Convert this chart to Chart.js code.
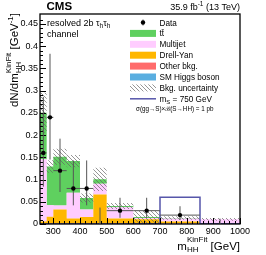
<!DOCTYPE html>
<html>
<head>
<meta charset="utf-8">
<script src="https://cdn.jsdelivr.net/npm/chart.js@4.4.0/dist/chart.umd.min.js"></script>
<style>
  html, body { margin: 0; padding: 0; background: #fff; }
</style>
</head>
<body>
<canvas id="chartMhh" width="266" height="255"></canvas>
<script>
// bin edges (GeV) and contents (events / GeV)
const binEdges = [250, 275, 300, 350, 400, 450, 500, 600, 700, 850, 1000];

const ttbar    = [0.105, 0.087, 0.110, 0.071, 0.026, 0.010, 0.003, 0.002, 0.001, 0.000];
const multijet = [0.140, 0.026, 0.009, 0.058, 0.017, 0.024, 0.025, 0.003, 0.007, 0.009];
const drellYan = [0.004, 0.015, 0.031, 0.011, 0.014, 0.065, 0.011, 0.009, 0.004, 0.0005];
const otherBkg = [0.001, 0.001, 0.001, 0.001, 0.001, 0.001, 0.001, 0.001, 0.001, 0.0005];
const smHiggs  = [0.0005, 0.0005, 0.0005, 0.0005, 0.0005, 0.0005, 0.0005, 0.0005, 0.0005, 0.0005];
const bkgErr   = [0.045, 0.014, 0.018, 0.014, 0.010, 0.026, 0.007, 0.014, 0.004, 0.003];

const signal750 = [0, 0, 0, 0, 0, 0, 0, 0.0005, 0.060, 0.0005];

const dataVals = [0.16, 0.24, 0.12, 0.08, 0.08, 0, 0.03, 0.03, 0.02, 0];
const dataLo   = [0.084, 0.145, 0.072, 0.042, 0.042, 0, 0.014, 0.014, 0.009, 0];
const dataHi   = [0.286, 0.383, 0.192, 0.143, 0.143, 0.037, 0.059, 0.059, 0.040, 0.012];

const xTicks = [300, 400, 500, 600, 700, 800, 900, 1000];
const yTicks = [0, 0.05, 0.1, 0.15, 0.2, 0.25, 0.3, 0.35, 0.4, 0.45];

const FONT = "'Liberation Sans', Arial, Helvetica, sans-serif";
const colTT = '#5fd05f', colMJ = '#ffccff', colDY = '#ffb700', colOth = '#ff6b6b', colH = '#5aaee0';
const colSig = '#5656aa';

const canvas = document.getElementById('chartMhh');
const ctx0 = canvas.getContext('2d');

function makeHatch() {
  const p = document.createElement('canvas');
  p.width = 4; p.height = 4;
  const g = p.getContext('2d');
  g.strokeStyle = 'rgba(100,100,100,0.85)';
  g.lineWidth = 0.8;
  g.beginPath();
  g.moveTo(0, 0); g.lineTo(4, 4);
  g.moveTo(-1, 3); g.lineTo(1, 5);
  g.moveTo(3, -1); g.lineTo(5, 1);
  g.stroke();
  return ctx0.createPattern(p, 'repeat');
}
const hatch = makeHatch();

function steps(vals) {
  const pts = vals.map((v, i) => ({x: binEdges[i], y: v}));
  pts.push({x: binEdges[binEdges.length - 1], y: vals[vals.length - 1]});
  return pts;
}

// stack, bottom to top
const layers = [
  {vals: smHiggs, color: colH},
  {vals: otherBkg, color: colOth},
  {vals: drellYan, color: colDY},
  {vals: multijet, color: colMJ},
  {vals: ttbar, color: colTT}
];
let acc = binEdges.slice(1).map(() => 0);
const datasets = [];
layers.forEach((l, k) => {
  acc = acc.map((a, i) => a + l.vals[i]);
  datasets.push({
    data: steps(acc), stepped: 'before', fill: k === 0 ? 'origin' : '-1',
    backgroundColor: l.color, borderColor: 'transparent', borderWidth: 0,
    pointRadius: 0, order: 10
  });
});
const total = acc;
datasets.push({
  data: steps(total.map((t, i) => Math.max(0, t - bkgErr[i]))), stepped: 'before', fill: false,
  borderColor: 'transparent', borderWidth: 0, pointRadius: 0, order: 3
});
datasets.push({
  data: steps(total.map((t, i) => t + bkgErr[i])), stepped: 'before', fill: '-1',
  backgroundColor: hatch, borderColor: 'transparent', borderWidth: 0, pointRadius: 0, order: 3
});
datasets.push({
  data: steps(signal750), stepped: 'before', fill: false,
  borderColor: colSig, borderWidth: 1.5, pointRadius: 0, order: 1
});

// text with sub/superscripts
function drawParts(ctx, parts, x, y, align) {
  const w = parts.map(p => {
    if (p.stack) {
      return Math.max(...p.stack.map(s => { ctx.font = s.size + 'px ' + FONT; return ctx.measureText(s.text).width; }));
    }
    ctx.font = (p.bold ? 'bold ' : '') + p.size + 'px ' + FONT;
    return ctx.measureText(p.text).width;
  });
  const tot = w.reduce((a, b) => a + b, 0);
  let cx = align === 'right' ? x - tot : x;
  ctx.textAlign = 'left';
  ctx.textBaseline = 'alphabetic';
  parts.forEach((p, i) => {
    const items = p.stack ? p.stack : [p];
    items.forEach(s => {
      ctx.font = (s.bold ? 'bold ' : '') + s.size + 'px ' + FONT;
      ctx.fillText(s.text, cx, y + (s.dy || 0));
    });
    cx += w[i];
  });
  return tot;
}

const framePlugin = {
  id: 'frame',
  afterDatasetsDraw(chart) {
    const {ctx, chartArea: a, scales: {x, y}} = chart;
    ctx.save();
    ctx.strokeStyle = '#000';
    ctx.lineWidth = 1;
    // ticks, inward
    ctx.beginPath();
    for (let v = 0; v <= 0.47; v += 0.01) {
      const py = Math.round(y.getPixelForValue(v)) + 0.5;
      const major = Math.abs(v / 0.05 - Math.round(v / 0.05)) < 1e-6;
      ctx.moveTo(a.left, py); ctx.lineTo(a.left + (major ? 6 : 3), py);
    }
    for (let v = 260; v <= 1000; v += 20) {
      const px = Math.round(x.getPixelForValue(v)) + 0.5;
      const major = v % 100 === 0;
      ctx.moveTo(px, a.bottom); ctx.lineTo(px, a.bottom - (major ? 6 : 3));
    }
    ctx.stroke();
    ctx.lineWidth = 1.3;
    ctx.strokeRect(a.left, a.top, a.right - a.left, a.bottom - a.top);

    // data points
    ctx.strokeStyle = '#555';
    ctx.lineWidth = 1;
    ctx.fillStyle = '#000';
    for (let i = 0; i < dataVals.length; i++) {
      const xc = x.getPixelForValue((binEdges[i] + binEdges[i + 1]) / 2);
      ctx.beginPath();
      ctx.moveTo(xc, y.getPixelForValue(dataLo[i]));
      ctx.lineTo(xc, y.getPixelForValue(dataHi[i]));
      if (dataVals[i] > 0) {
        const py = y.getPixelForValue(dataVals[i]);
        ctx.moveTo(x.getPixelForValue(binEdges[i]), py);
        ctx.lineTo(x.getPixelForValue(binEdges[i + 1]), py);
      }
      ctx.stroke();
      if (dataVals[i] > 0) {
        ctx.beginPath();
        ctx.arc(xc, y.getPixelForValue(dataVals[i]), 2.2, 0, Math.PI * 2);
        ctx.fill();
      }
    }
    ctx.restore();
  },
  afterDraw(chart) {
    const {ctx} = chart;
    ctx.save();
    ctx.fillStyle = '#000';
    drawParts(ctx, [{text: 'CMS', size: 11.5, bold: true}], 46.5, 10, 'left');
    drawParts(ctx, [{text: '35.9 fb', size: 9}, {text: '-1', size: 6.5, dy: -3.5}, {text: ' (13 TeV)', size: 9}], 240, 9.5, 'right');
    drawParts(ctx, [{text: 'resolved 2b \u03c4', size: 9}, {text: 'h', size: 6.5, dy: 2}, {text: '\u03c4', size: 9}, {text: 'h', size: 6.5, dy: 2}], 47, 25.5, 'left');
    drawParts(ctx, [{text: 'channel', size: 9}], 47, 36.5, 'left');

    // axis titles
    drawParts(ctx, [
      {text: 'm', size: 11.5},
      {stack: [{text: 'KinFit', size: 8, dy: -7.5}, {text: 'HH', size: 8, dy: 2.5}]},
      {text: ' [GeV]', size: 11.5}
    ], 240, 249.5, 'right');
    ctx.save();
    ctx.translate(18, 13);
    ctx.rotate(-Math.PI / 2);
    drawParts(ctx, [
      {text: 'dN/dm', size: 11.5},
      {stack: [{text: 'KinFit', size: 8, dy: -7.5}, {text: 'HH', size: 8, dy: 2.5}]},
      {text: ' [GeV', size: 11.5},
      {text: '-1', size: 8, dy: -5},
      {text: ']', size: 11.5}
    ], 0, 0, 'right');
    ctx.restore();

    // legend
    const bx = 130, bw = 26, bh = 7, tx = 159.5, y0 = 22.5, dy = 10.9;
    const rows = [
      {label: 'Data', kind: 'data'},
      {label: 't\u0074\u0304', kind: 'box', color: colTT},
      {label: 'Multijet', kind: 'box', color: colMJ},
      {label: 'Drell-Yan', kind: 'box', color: colDY},
      {label: 'Other bkg.', kind: 'box', color: colOth},
      {label: 'SM Higgs boson', kind: 'box', color: colH},
      {label: 'Bkg. uncertainty', kind: 'box', color: hatch},
      {label: 'sig', kind: 'line'}
    ];
    rows.forEach((r, k) => {
      const cy = y0 + k * dy;
      if (r.kind === 'box') {
        ctx.fillStyle = r.color;
        ctx.fillRect(bx, cy - bh / 2, bw, bh);
      } else if (r.kind === 'data') {
        ctx.strokeStyle = '#555'; ctx.lineWidth = 1;
        ctx.beginPath(); ctx.moveTo(bx + bw / 2, cy - 3); ctx.lineTo(bx + bw / 2, cy + 3); ctx.stroke();
        ctx.fillStyle = '#000';
        ctx.beginPath(); ctx.arc(bx + bw / 2, cy, 2.2, 0, Math.PI * 2); ctx.fill();
      } else {
        ctx.strokeStyle = colSig; ctx.lineWidth = 1.5;
        ctx.beginPath(); ctx.moveTo(bx, cy); ctx.lineTo(bx + bw, cy); ctx.stroke();
      }
      ctx.fillStyle = '#000';
      if (r.kind === 'line') {
        drawParts(ctx, [{text: 'm', size: 8.2}, {text: 'S', size: 6, dy: 1.8}, {text: ' = 750 GeV', size: 8.2}], tx, cy + 3, 'left');
      } else {
        drawParts(ctx, [{text: r.label, size: 8.2}], tx, cy + 3, 'left');
      }
    });
    drawParts(ctx, [{text: '\u03c3(gg\u2192S)\u00d7\u212c(S\u2192HH) = 1 pb', size: 6.3}], 136, 110.5, 'left');
    ctx.restore();
  }
};

new Chart(canvas, {
  type: 'line',
  data: {datasets},
  options: {
    responsive: false,
    animation: false,
    events: [],
    layout: {padding: {left: 0, right: 26, top: 14, bottom: 0}},
    plugins: {legend: {display: false}, tooltip: {enabled: false}},
    scales: {
      x: {
        type: 'linear', min: 250, max: 1000,
        grid: {display: false, drawTicks: false},
        border: {display: false},
        afterBuildTicks: s => { s.ticks = xTicks.map(v => ({value: v})); },
        afterFit: s => { s.height = 31; },
        ticks: {padding: 2, color: '#000', font: {family: FONT, size: 9}, maxRotation: 0, autoSkip: false,
                callback: v => String(v)}
      },
      y: {
        type: 'linear', min: 0, max: 0.4725,
        grid: {display: false, drawTicks: false},
        border: {display: false},
        afterBuildTicks: s => { s.ticks = yTicks.map(v => ({value: v})); },
        afterFit: s => { s.width = 40; },
        ticks: {padding: 2, color: '#000', font: {family: FONT, size: 9}, autoSkip: false,
                callback: v => String(parseFloat(v.toFixed(2)))}
      }
    }
  },
  plugins: [framePlugin]
});
</script>
</body>
</html>
